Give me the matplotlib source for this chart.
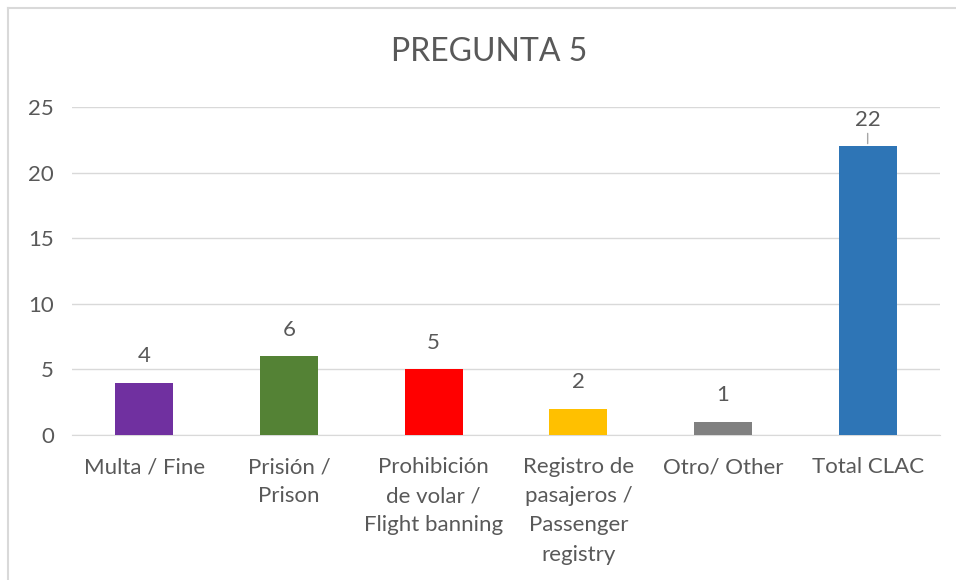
import matplotlib.pyplot as plt
from matplotlib.lines import Line2D

categories = ["Multa / Fine", "Prisión /\nPrison", "Prohibición\nde volar /\nFlight banning",
              "Registro de\npasajeros /\nPassenger\nregistry", "Otro/ Other", "Total CLAC"]
values = [4, 6, 5, 2, 1, 22]
colors = ["#7030A0", "#548235", "#FF0000", "#FFC000", "#808080", "#2E75B6"]
yticks = [0, 5, 10, 15, 20, 25]

text_color = "#595959"
plt.rcParams['font.family'] = ['Lato', 'DejaVu Sans']

fig = plt.figure(figsize=(9.56, 5.8), dpi=100)
ax = fig.add_axes([72 / 956, 1 - 435 / 580, 868 / 956, 328 / 580])

x = range(len(values))
ax.bar(x, values, width=0.4, color=colors, zorder=3)
ax.set_xlim(-0.5, len(values) - 0.5)
ax.set_ylim(0, 25)
ax.set_yticks(yticks)
ax.grid(axis='y', color='#d9d9d9', linewidth=1, zorder=0)
for s in ['top', 'right', 'left']:
    ax.spines[s].set_visible(False)
ax.spines['bottom'].set_color('#d9d9d9')
ax.tick_params(length=0, labelcolor=text_color, labelsize=16)
ax.tick_params(axis='y', pad=13)
ax.tick_params(axis='x', pad=16)
ax.set_xticks(list(x))
ax.set_xticklabels(categories, linespacing=1.57, va='top')

# data labels above bars
for i, v in enumerate(values):
    ax.annotate(str(v), (i, v), xytext=(0, 12), textcoords='offset points',
                ha='center', va='bottom', fontsize=16, color=text_color)
# leader line on the last (moved) label
ax.annotate("", xy=(5, values[-1]), xytext=(5, values[-1] + 1.2),
            arrowprops=dict(arrowstyle='-', color='#a6a6a6', lw=1))

fig.text(489 / 956, 1 - 52 / 580, "PREGUNTA 5", ha='center', va='center',
         fontsize=23, color=text_color)

# chart frame (left and top edges visible)
fig.add_artist(Line2D([8 / 956, 8 / 956], [0, 1 - 8 / 580], color='#d9d9d9', lw=1.5,
                      transform=fig.transFigure))
fig.add_artist(Line2D([8 / 956, 1], [1 - 8 / 580, 1 - 8 / 580], color='#d9d9d9', lw=1.5,
                      transform=fig.transFigure))

fig.savefig("out.png", dpi=100)
